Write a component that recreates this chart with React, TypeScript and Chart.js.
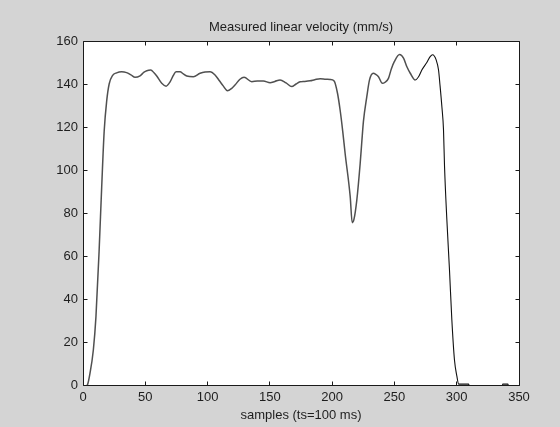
import React, { useEffect, useRef } from "react";
import { Chart, registerables } from "chart.js";

Chart.register(...registerables);

const chartTitle = "Measured linear velocity (mm/s)";
const xAxisTitle = "samples (ts=100 ms)";

const xTicks = [0, 50, 100, 150, 200, 250, 300, 350];
const yTicks = [0, 20, 40, 60, 80, 100, 120, 140, 160];

const sampleX = [
  0, 3.5, 5.6, 8.3, 10.4, 12.9, 15, 17, 19, 21, 23.8, 27, 31, 35, 38.5, 41.8, 45.8, 49,
  51.2, 54.4, 57, 59.2, 63.2, 66.7, 69.9, 72.5, 74.7, 77.9, 80.5, 83.3, 88.6, 94, 98,
  102, 106, 109.5, 112.7, 115.9, 119.4, 122, 126, 129.3, 135.5, 140, 144.8, 150.2, 154,
  158.2, 163, 167.6, 171, 174.3, 178, 182.3, 186, 190.4, 195, 198.4, 201.6, 204.3,
  206.4, 208.5, 210.4, 214.5, 216.1, 217.5, 219.8, 222.5, 223.8, 225.1, 227.8, 230,
  233, 235, 237.2, 240.3, 242.5, 245.2, 247.5, 250, 254.1, 257.3, 260, 262.7, 266.7,
  269.5, 272, 276, 278.7, 280.6, 283.5, 285.4, 286.5, 288.1, 289.4, 290.2, 292.1, 294.2,
  296.1, 298.2, 300.2, 301.5, 305, 309.5, 311, 336, 337, 341, 342.5, 350,
];

const velocity = [
  -1, 0, 5.4, 16.3, 31.8, 62, 92, 118, 132, 140, 144, 145.2, 145.7, 145.3, 144.2, 143.1,
  143.8, 145.5, 146.2, 146.5, 145.2, 143.7, 140.3, 139, 141, 144, 145.7, 145.7, 144.7,
  143.7, 143.4, 145, 145.6, 145.7, 144.2, 141.5, 139, 136.9, 138, 139.5, 142.2, 143.1,
  141.1, 141.4, 141.4, 140.6, 141.2, 141.9, 140.5, 138.8, 140, 141, 141.2, 141.5, 142,
  142.5, 142.2, 142.1, 141.4, 135.7, 127.9, 118, 107.8, 87.6, 75.5, 77, 86, 103, 113,
  122.5, 134, 141.9, 145, 144.5, 143.4, 140.3, 140.8, 142.6, 147, 150.5, 153.7, 152, 148,
  145, 141.9, 143.5, 146.5, 150, 152.7, 153.6, 151.2, 146.5, 140, 129.4, 118.6, 102,
  76.7, 53.5, 30.2, 11.6, 3.9, 0.4, 0.4, 0.4, -2, -2, 0.4, 0.4, -2, -2,
];

const FONT = "'Liberation Sans', Arial, Helvetica, sans-serif";
const TEXT = "#1e1e1e";
const FIG_BG = "#d4d4d4";

const framePlugin = {
  id: "matlabFrame",
  beforeDraw(chart: any) {
    const { ctx, chartArea, width, height } = chart;
    ctx.save();
    ctx.fillStyle = FIG_BG;
    ctx.fillRect(0, 0, width, height);
    ctx.fillStyle = "#ffffff";
    ctx.fillRect(chartArea.left, chartArea.top, chartArea.right - chartArea.left, chartArea.bottom - chartArea.top);
    ctx.restore();
  },
  afterDatasetsDraw(chart: any) {
    const { ctx, chartArea } = chart;
    const xs = chart.scales.x;
    const ys = chart.scales.y;
    const L = Math.floor(chartArea.left) + 0.5;
    const R = Math.floor(chartArea.right) + 0.5;
    const T = Math.floor(chartArea.top) + 0.5;
    const B = Math.floor(chartArea.bottom) + 0.5;
    const tl = 4;
    ctx.save();
    ctx.strokeStyle = "#1a1a1a";
    ctx.lineWidth = 1;
    ctx.beginPath();
    ctx.rect(L, T, R - L, B - T);
    for (const v of xTicks) {
      const p = Math.floor(xs.getPixelForValue(v)) + 0.5;
      ctx.moveTo(p, B);
      ctx.lineTo(p, B - tl);
      ctx.moveTo(p, T);
      ctx.lineTo(p, T + tl);
    }
    for (const v of yTicks) {
      const p = Math.floor(ys.getPixelForValue(v)) + 0.5;
      ctx.moveTo(L, p);
      ctx.lineTo(L + tl, p);
      ctx.moveTo(R, p);
      ctx.lineTo(R - tl, p);
    }
    ctx.stroke();
    ctx.restore();
  },
};

export default function App() {
  const ref = useRef<HTMLCanvasElement | null>(null);

  useEffect(() => {
    if (!ref.current) return;
    const points = sampleX.map((x, i) => ({ x, y: velocity[i] }));
    const chart = new Chart(ref.current, {
      type: "line",
      data: {
        datasets: [
          {
            data: points,
            borderColor: "#505050",
            borderWidth: 1.5,
            pointRadius: 0,
            fill: false,
            cubicInterpolationMode: "monotone",
            segment: {
              borderColor: (c: any) => (c.p0.parsed.x >= 265 ? "#111111" : "#505050"),
              borderWidth: (c: any) => (c.p0.parsed.x >= 265 ? 1.1 : 1.5),
            },
          },
        ],
      },
      options: {
        responsive: false,
        animation: false,
        events: [],
        layout: { padding: { left: 0, right: 41, top: 0, bottom: 0 } },
        plugins: {
          legend: { display: false },
          tooltip: { enabled: false },
          title: {
            display: true,
            fullSize: false,
            text: chartTitle,
            color: TEXT,
            font: { family: FONT, size: 13, weight: "normal" },
            padding: { top: 19.2, bottom: 6.2 },
          },
        },
        scales: {
          x: {
            type: "linear",
            min: 0,
            max: 350,
            afterBuildTicks: (s: any) => {
              s.ticks = xTicks.map((v) => ({ value: v }));
            },
            afterFit: (s: any) => {
              s.height = 42;
            },
            grid: { display: false, drawTicks: false },
            border: { display: false },
            ticks: {
              color: TEXT,
              font: { family: FONT, size: 13 },
              padding: 5,
              maxRotation: 0,
              autoSkip: false,
            },
            title: {
              display: true,
              text: xAxisTitle,
              color: TEXT,
              font: { family: FONT, size: 13 },
              padding: { top: 0, bottom: 4 },
            },
          },
          y: {
            type: "linear",
            min: 0,
            max: 160,
            afterBuildTicks: (s: any) => {
              s.ticks = yTicks.map((v) => ({ value: v }));
            },
            afterFit: (s: any) => {
              s.width = 83;
            },
            grid: { display: false, drawTicks: false },
            border: { display: false },
            ticks: {
              color: TEXT,
              font: { family: FONT, size: 13 },
              padding: 5,
              autoSkip: false,
            },
          },
        },
      },
      plugins: [framePlugin],
    });
    return () => chart.destroy();
  }, []);

  return (
    <div style={{ position: "fixed", left: 0, top: 0, width: 560, height: 427, background: FIG_BG }}>
      <canvas ref={ref} width={560} height={427} style={{ display: "block", width: 560, height: 427 }} />
    </div>
  );
}
